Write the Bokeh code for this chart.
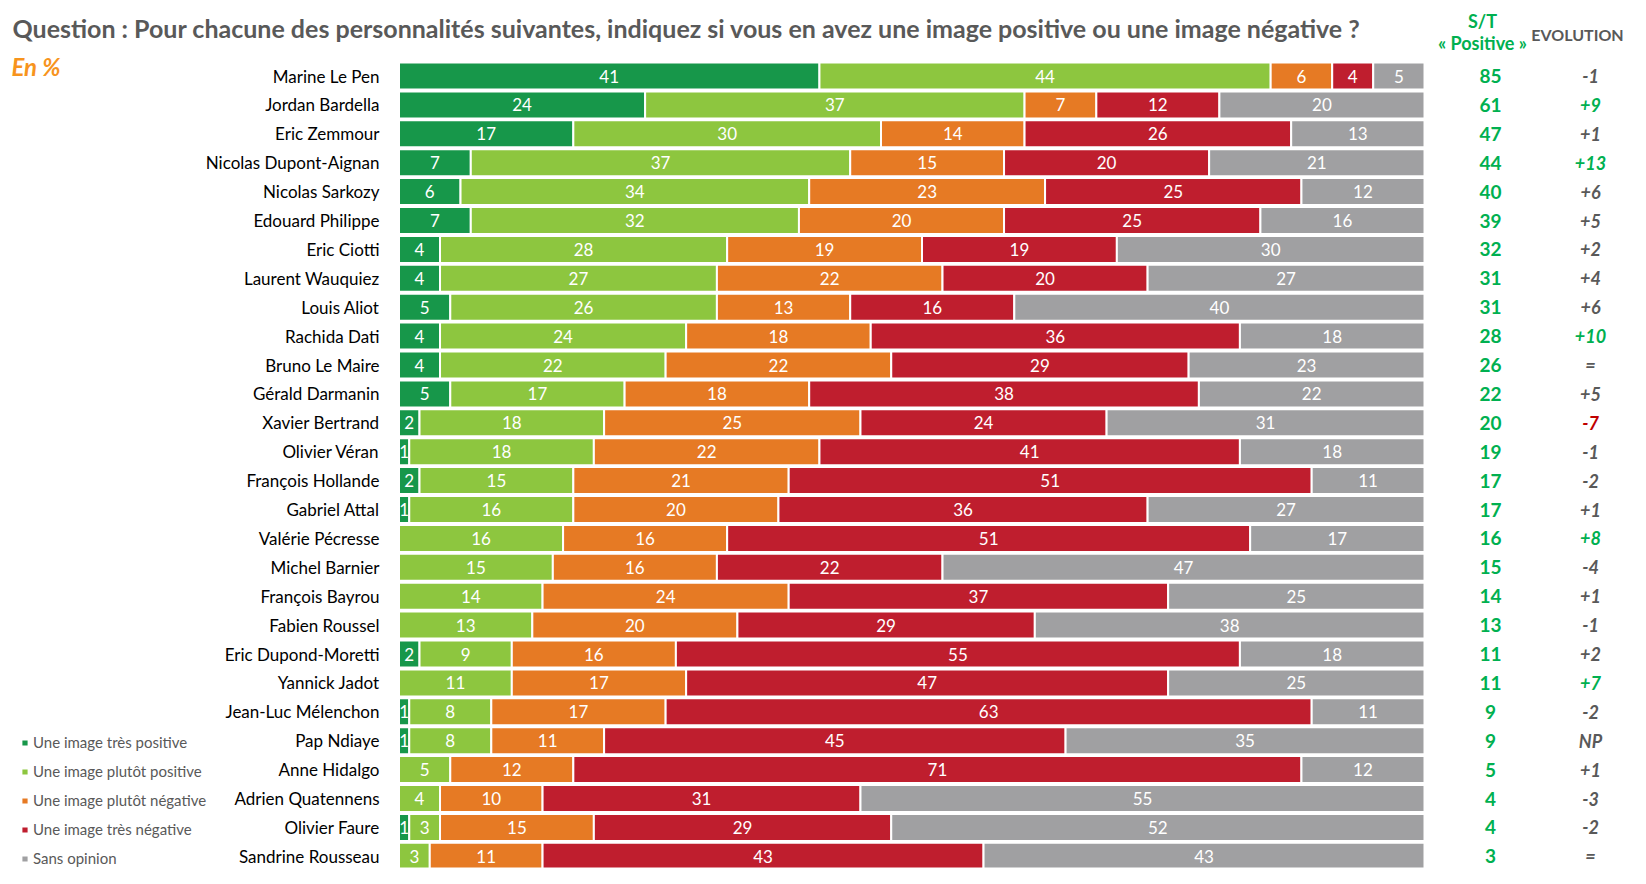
import numpy as np
from bokeh.plotting import figure
from bokeh.models import ColumnDataSource, Range1d, Legend, LegendItem
from bokeh.core.properties import value
from bokeh.embed import file_html
from bokeh.resources import INLINE

# ---------------- data ----------------
names = ["Marine Le Pen", "Jordan Bardella", "Eric Zemmour", "Nicolas Dupont-Aignan",
         "Nicolas Sarkozy", "Edouard Philippe", "Eric Ciotti", "Laurent Wauquiez",
         "Louis Aliot", "Rachida Dati", "Bruno Le Maire", "Gérald Darmanin",
         "Xavier Bertrand", "Olivier Véran", "François Hollande", "Gabriel Attal",
         "Valérie Pécresse", "Michel Barnier", "François Bayrou", "Fabien Roussel",
         "Eric Dupond-Moretti", "Yannick Jadot", "Jean-Luc Mélenchon", "Pap Ndiaye",
         "Anne Hidalgo", "Adrien Quatennens", "Olivier Faure", "Sandrine Rousseau"]
tres_positive   = [41, 24, 17, 7, 6, 7, 4, 4, 5, 4, 4, 5, 2, 1, 2, 1, 0, 0, 0, 0, 2, 0, 1, 1, 0, 0, 1, 0]
plutot_positive = [44, 37, 30, 37, 34, 32, 28, 27, 26, 24, 22, 17, 18, 18, 15, 16, 16, 15, 14, 13, 9, 11, 8, 8, 5, 4, 3, 3]
plutot_negative = [6, 7, 14, 15, 23, 20, 19, 22, 13, 18, 22, 18, 25, 22, 21, 20, 16, 16, 24, 20, 16, 17, 17, 11, 12, 10, 15, 11]
tres_negative   = [4, 12, 26, 20, 25, 25, 19, 20, 16, 36, 29, 38, 24, 41, 51, 36, 51, 22, 37, 29, 55, 47, 63, 45, 71, 31, 29, 43]
sans_opinion    = [5, 20, 13, 21, 12, 16, 30, 27, 40, 18, 23, 22, 31, 18, 11, 27, 17, 47, 25, 38, 18, 25, 11, 35, 12, 55, 52, 43]
st_positive     = [85, 61, 47, 44, 40, 39, 32, 31, 31, 28, 26, 22, 20, 19, 17, 17, 16, 15, 14, 13, 11, 11, 9, 9, 5, 4, 4, 3]
evolution       = ["-1", "+9", "+1", "+13", "+6", "+5", "+2", "+4", "+6", "+10", "=", "+5", "-7", "-1",
                   "-2", "+1", "+8", "-4", "+1", "-1", "+2", "+7", "-2", "NP", "+1", "-3", "-2", "="]
category_labels = ["Une image très positive", "Une image plutôt positive", "Une image plutôt négative",
                   "Une image très négative", "Sans opinion"]
title_text = "Question : Pour chacune des personnalités suivantes, indiquez si vous en avez une image positive ou une image négative ?"
subtitle_text = "En %"
st_header = ["S/T", "« Positive »"]
evo_header = "EVOLUTION"

# ---------------- style / layout ----------------
FONT = "Lato"
COLORS = ["#17974A", "#8DC63F", "#E67A24", "#BF1E2E", "#A0A0A2"]
GREEN_TXT = "#00B050"
RED_TXT = "#C00000"
GREY_TXT = "#595959"
ORANGE_TXT = "#F7941D"

W, H = 1630, 868
PX_PER_PCT = 10.255
X0 = 398.5          # px of 0 %
ROW0 = 75.5         # px of first row centre
PITCH = 28.9
BAR_H = 27 / PITCH


def dx(px):
    return (px - X0) / PX_PER_PCT


def dy(px):
    return (px - ROW0) / PITCH


p = figure(width=W, height=H, output_backend="svg", toolbar_location=None,
           x_range=Range1d(-X0 / PX_PER_PCT, (W - X0) / PX_PER_PCT),
           y_range=Range1d((H - ROW0) / PITCH, -ROW0 / PITCH),
           x_axis_location=None, y_axis_location=None, min_border=0,
           title=None)
p.grid.visible = False
p.outline_line_color = None
p.background_fill_color = "white"
p.border_fill_color = "white"

series = [tres_positive, plutot_positive, plutot_negative, tres_negative, sans_opinion]
n = len(names)
rows = np.arange(n)
cum = np.zeros(n)
renderers = []
for k, vals in enumerate(series):
    v = np.array(vals, dtype=float)
    left = cum.copy()
    right = cum + v
    mask = v > 0
    src = ColumnDataSource(dict(
        y=rows[mask], left=left[mask], right=right[mask],
        mid=((left + right) / 2)[mask],
        lab=[str(int(a)) for a in v[mask]]))
    r = p.hbar(y="y", left="left", right="right", height=BAR_H, source=src,
               fill_color=COLORS[k], line_color="white", line_width=2)
    p.text(x="mid", y="y", text="lab", source=src, text_align="center",
           text_baseline="middle", text_color="white",
           text_font=value(FONT), text_font_size="17px")
    renderers.append(r)
    cum = right

# names
p.text(x=[dx(379)] * n, y=rows, text=names, text_align="right", text_baseline="middle",
       text_color="#000000", text_font=value(FONT), text_font_size="17px")

# S/T positive column
p.text(x=[dx(1490)] * n, y=rows, text=[str(s) for s in st_positive], text_align="center",
       text_baseline="middle", text_color=GREEN_TXT, text_font=value(FONT),
       text_font_style="bold", text_font_size="19px")


def evo_color(s):
    try:
        v = int(s)
    except ValueError:
        return GREY_TXT
    if v >= 7:
        return GREEN_TXT
    if v <= -7:
        return RED_TXT
    return GREY_TXT


p.text(x=[dx(1590)] * n, y=rows, text=evolution, text_align="center",
       text_baseline="middle", text_color=[evo_color(e) for e in evolution],
       text_font=value(FONT), text_font_style="bold italic", text_font_size="18px")

# headers
p.text(x=[dx(1482)] * 2, y=[dy(20), dy(42)], text=st_header, text_align="center",
       text_baseline="middle", text_color=GREEN_TXT, text_font=value(FONT),
       text_font_style="bold", text_font_size="18px")
p.text(x=[dx(1577)], y=[dy(34)], text=[evo_header], text_align="center",
       text_baseline="middle", text_color=GREY_TXT, text_font=value(FONT),
       text_font_style="bold", text_font_size="16px")

# title and subtitle
p.text(x=[dx(12)], y=[dy(27)], text=[title_text], text_align="left",
       text_baseline="middle", text_color=GREY_TXT, text_font=value(FONT),
       text_font_style="bold", text_font_size="25px")
p.text(x=[dx(11)], y=[dy(66)], text=[subtitle_text], text_align="left",
       text_baseline="middle", text_color=ORANGE_TXT, text_font=value(FONT),
       text_font_style="bold italic", text_font_size="24px")

# legend
legend = Legend(items=[LegendItem(label=lab, renderers=[r]) for lab, r in zip(category_labels, renderers)],
                location=(20, 0), orientation="vertical", padding=0, margin=0,
                spacing=9, glyph_width=9, glyph_height=9, label_standoff=4,
                label_height=20, label_text_font=FONT, label_text_font_size="15px",
                label_text_color=GREY_TXT, border_line_color=None,
                background_fill_alpha=0)
p.add_layout(legend)

open("out.html", "w").write(file_html(p, INLINE))
